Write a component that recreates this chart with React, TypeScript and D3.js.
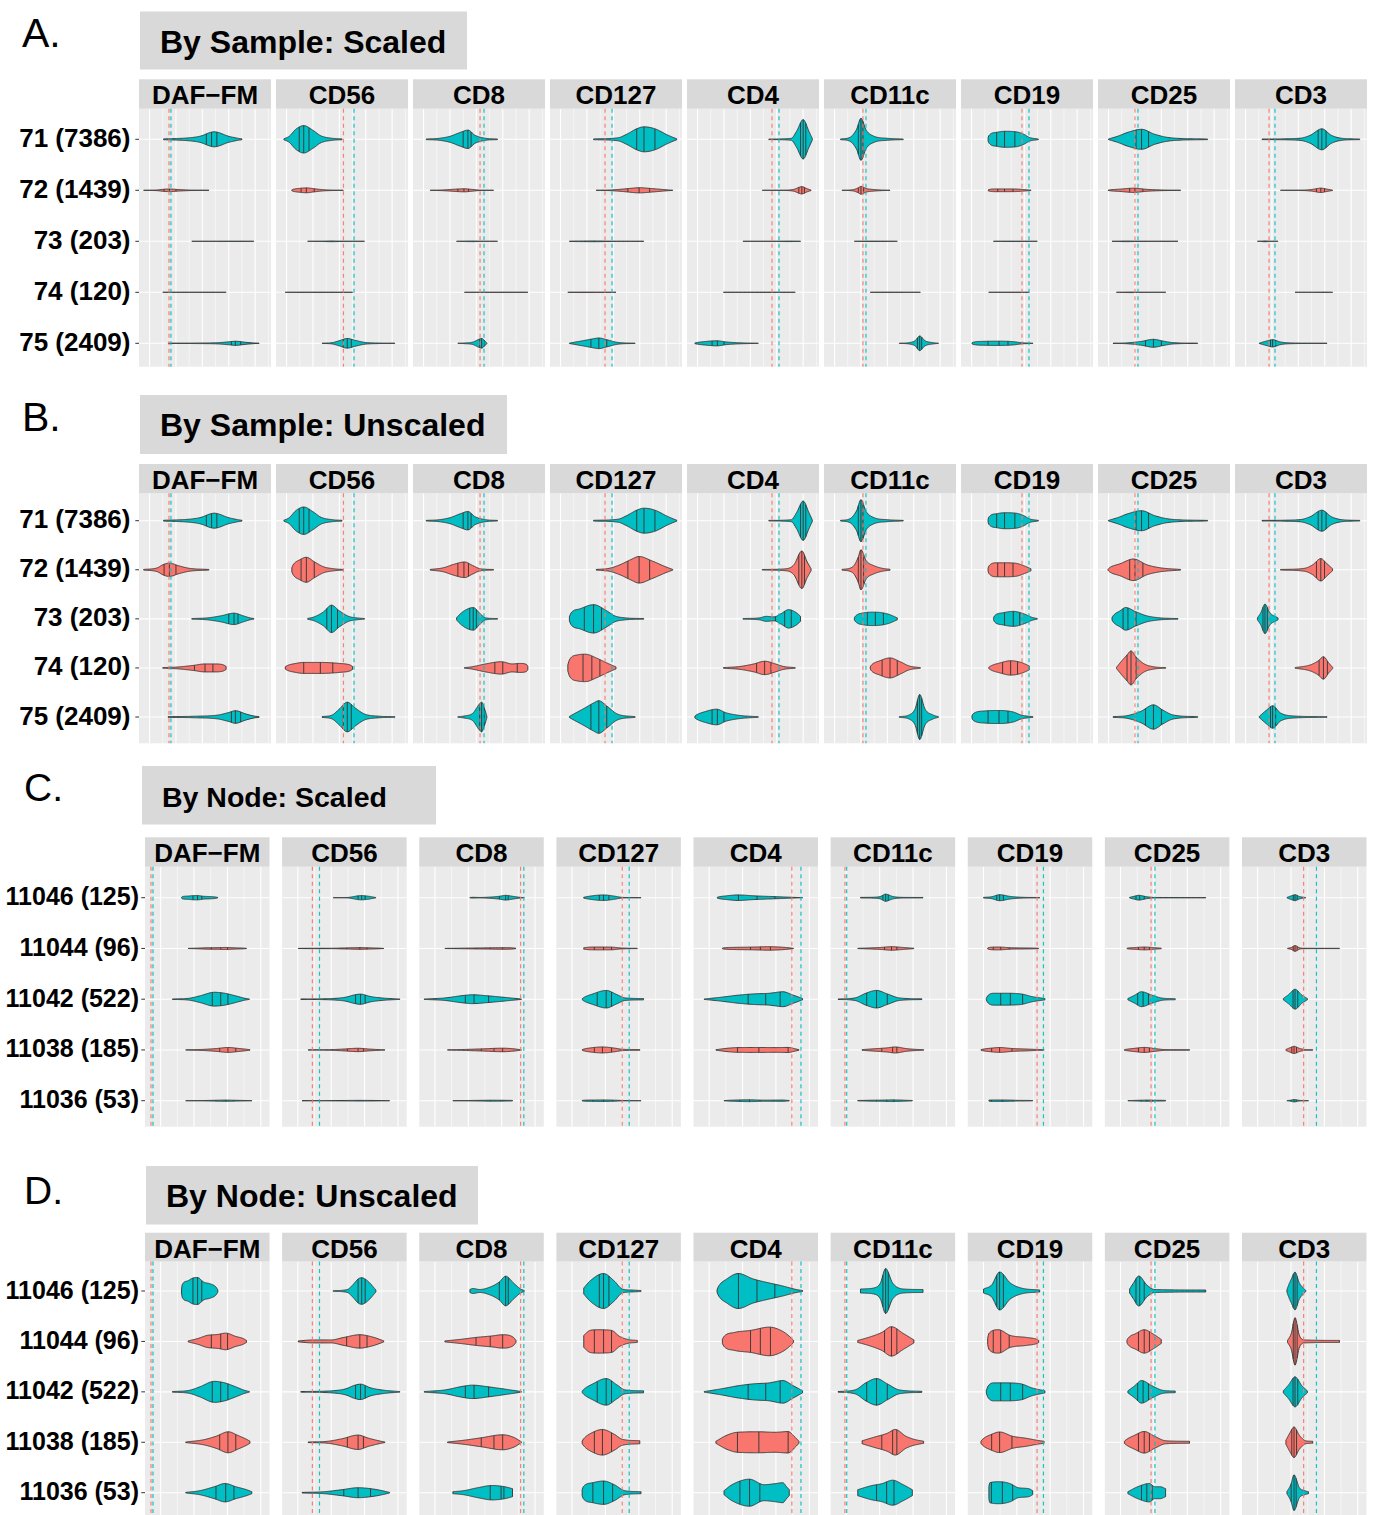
import React from "react";
import * as d3 from "d3";

// ---------------- DATA ----------------
const MARKERS = ["DAF−FM", "CD56", "CD8", "CD127", "CD4", "CD11c", "CD19", "CD25", "CD3"];

const SAMPLE_LABELS = ["71 (7386)", "72 (1439)", "73 (203)", "74 (120)", "75 (2409)"];
const SAMPLE_COUNTS = [7386, 1439, 203, 120, 2409];
const SAMPLE_CLASS = ["B", "A", "B", "A", "B"];

const NODE_LABELS = ["11046 (125)", "11044 (96)", "11042 (522)", "11038 (185)", "11036 (53)"];
const NODE_COUNTS = [125, 96, 522, 185, 53];
const NODE_CLASS = ["B", "A", "B", "A", "B"];

// class thresholds (x units: 0-100 of each marker's free scale)
const SAMPLE_CUT_A = [22.7, 51.1, 50.8, 41.7, 64.4, 29.5, 46.2, 28, 25.8];
const SAMPLE_CUT_B = [24.2, 59.1, 53.8, 47, 69.7, 31.8, 51.5, 30.3, 30.3];
const NODE_CUT_A = [4.8, 24.3, 81.4, 52.9, 79, 11.5, 55.7, 37.1, 49.5];
const NODE_CUT_B = [6.4, 30, 84, 58.5, 86.3, 12.9, 60.8, 40.2, 59.8];

// violin: [quantiles, density knots [x, density]]
type V = [number[], [number, number][]];

const SAMPLE_VIOLINS: V[][] = [
  [ // DAF-FM
    [[51, 55, 59], [[18.6, 0.4], [38, 1.5], [46, 3], [57, 7.5], [68, 3], [75, 1], [78, 0.4]]],
    [[19, 23, 28], [[3.5, 0.3], [14, 2], [18, 5], [23, 6.7], [30, 4], [38, 1.5], [53, 0.3]]],
    [[68, 72, 75], [[40, 0.3], [52, 1], [62, 3], [72, 5.7], [79, 3], [84, 1], [87, 0.3]]],
    [[42, 50, 56], [[18, 0.3], [30, 1], [41, 2.5], [50, 4], [57, 4], [64, 3], [66, 1.5]]],
    [[70, 73, 77], [[22, 0.3], [43, 0.8], [60, 2], [68, 4.5], [73, 6.3], [81, 3], [87, 1], [91, 0.3]]],
  ],
  [ // CD56
    [[17.6, 21, 25], [[6, 0.5], [10, 3], [15, 10], [21, 13.7], [28, 9], [34, 3.5], [42.6, 1], [50, 0.4]]],
    [[19, 23, 29], [[12, 2], [13, 5], [18, 10], [23, 12.5], [29, 8], [36, 3], [44, 1], [51, 0.3]]],
    [[38.5, 42, 46.6], [[24, 0.4], [29, 2], [36, 7], [42, 13.7], [48, 8], [55, 2.5], [61, 1], [67, 0.3]]],
    [[21, 33.6, 43], [[7, 1], [8, 2], [15, 4.5], [21, 5.5], [34, 5.5], [48, 4.5], [56, 3], [58, 1.5]]],
    [[51, 54, 57], [[35, 0.4], [42.6, 2], [48, 8], [54, 14.8], [60, 9], [67, 3], [78, 0.8], [90, 0.3]]],
  ],
  [ // CD8
    [[38, 41.6, 44], [[10, 0.3], [20, 1], [28, 3], [36, 7], [41.6, 9.2], [47, 4], [55, 1], [64, 0.3]]],
    [[34, 38.6, 42], [[13, 0.3], [23, 2], [31, 5.5], [39, 7.8], [45.6, 4], [51, 1], [61, 0.3]]],
    [[43, 45.6, 48], [[33, 1], [35, 4], [40, 9], [45.6, 11.3], [51, 5], [55, 1], [64, 0.3]]],
    [[62, 68, 79], [[39, 0.3], [44, 1], [55, 4], [67, 6.2], [75, 4], [81, 4.5], [86, 3.5], [87, 1.5]]],
    [[50.5, 52, 54], [[34, 0.3], [38.6, 1], [45.5, 4], [49.7, 12], [52, 14.8], [54.5, 7], [56, 0.5]]],
  ],
  [ // CD127
    [[65.7, 71.2, 79.5], [[33, 0.4], [51.5, 1.5], [58, 5], [65.7, 10.5], [71.2, 12.5], [79.5, 10.5], [88, 5], [93, 2], [96, 0.5]]],
    [[59, 67.5, 75.5], [[35, 0.3], [45, 1.5], [53, 5], [61, 10], [67.5, 13.3], [77, 9], [87.6, 3], [93, 0.3]]],
    [[26, 33, 39], [[14.7, 2], [16, 6], [22.7, 10], [33, 14.2], [43, 8], [49, 3], [57, 1], [71, 0.3]]],
    [[25, 31.7, 37.8], [[13.5, 3], [14.7, 8], [20.7, 13], [27, 13.7], [35, 10], [43, 5], [50, 1]]],
    [[31, 37, 43], [[14.7, 0.5], [16.6, 2], [25, 8], [33, 14], [37, 16.3], [43, 11], [51, 3], [64.5, 0.3]]],
  ],
  [ // CD4
    [[86, 88, 90], [[62, 0.3], [79, 1], [83, 8], [88, 19.7], [92.4, 8], [95, 0.5]]],
    [[84.7, 87, 89], [[57, 0.3], [75, 1], [81, 5], [87, 18.8], [91, 8], [94, 1]]],
    [[67, 74, 79], [[42.4, 0.3], [55, 1], [60, 2.5], [66, 2], [71, 5], [77, 9.2], [83, 6], [86, 2.5]]],
    [[52.7, 58.8, 63.6], [[27.6, 0.3], [40.5, 1.5], [50.7, 4], [58.8, 6.7], [67, 4], [73, 1.5], [82, 0.3]]],
    [[19, 23, 28], [[6, 1], [7, 2], [14, 5.5], [22.3, 7.8], [30, 4], [40.5, 1.5], [54, 0.3]]],
  ],
  [ // CD11c
    [[26, 28, 29.5], [[12.5, 0.3], [19.7, 2], [24.7, 10], [28, 21], [32, 9], [38, 3], [48, 1], [60, 0.3]]],
    [[26, 28, 30], [[13.6, 0.3], [21.8, 3], [25.8, 12], [28, 20], [32, 9], [38, 4], [44, 1.5], [50, 0.5]]],
    [[32.8, 38.9, 45], [[23, 1], [24, 3], [30, 6], [38, 6.7], [48, 5], [55.5, 1]]],
    [[44, 50, 55.5], [[35, 1], [36, 3], [42, 7], [50, 10], [58, 6], [64.4, 2], [73, 0.3]]],
    [[70.8, 72.5, 74], [[57, 0.3], [64.4, 2], [69, 8], [72.5, 22.5], [76.5, 8], [82.6, 2], [86.7, 0.3]]],
  ],
  [ // CD19
    [[27, 33, 40.8], [[20.5, 1], [21, 3.5], [27, 7], [33, 8], [41.6, 7.5], [47.7, 5], [51.5, 2], [58.6, 0.3]]],
    [[27.8, 33, 39.4], [[20.5, 1], [21, 3.5], [27, 7], [33, 7], [41.6, 6.5], [47.7, 4], [53, 1]]],
    [[33, 39.6, 44.5], [[24.6, 0.5], [25.4, 3], [31.5, 6], [39.6, 7.5], [47.7, 5], [53.8, 1.5], [57.8, 0.3]]],
    [[31.5, 37.6, 42.8], [[21, 0.5], [22.6, 2], [29.5, 5], [37.6, 7.2], [45.5, 5.5], [51.7, 2]]],
    [[20.5, 28.8, 35.6], [[8.3, 1], [9, 3], [17.3, 6], [29.5, 6.5], [39.6, 5], [45.5, 2], [54.5, 0.3]]],
  ],
  [ // CD25
    [[28.8, 33, 38.3], [[7.9, 0.3], [14.8, 3], [22.7, 7], [33, 10], [43, 5], [55, 1.5], [83, 0.3]]],
    [[24, 28, 34], [[7.6, 0.5], [8.7, 2], [16.7, 6], [27, 10.8], [37, 5], [47, 2], [62.6, 0.3]]],
    [[19, 22.7, 28.8], [[10.6, 1], [11.4, 3], [16.7, 8], [21, 11.3], [28.8, 7], [37, 3], [47, 1], [60.6, 0.3]]],
    [[22, 25, 28.8], [[14, 0.5], [16.7, 5], [22, 13], [25, 17], [28.8, 11], [35, 4], [43, 1], [51.3, 0.3]]],
    [[36, 42, 48], [[11.4, 0.3], [22.7, 1.5], [33, 6], [42, 12.2], [49, 7], [57, 2], [75.5, 0.3]]],
  ],
  [ // CD3
    [[63, 65.8, 69], [[20.5, 0.3], [48.8, 1], [57, 4], [65.8, 10.5], [73, 4], [81, 1], [94.5, 0.3]]],
    [[61.7, 65, 67.8], [[34.5, 0.3], [52.8, 1.5], [58.9, 5], [65, 11.2], [69.7, 6], [73.9, 1]]],
    [[21.2, 22.7, 24.5], [[17, 1], [19.5, 6], [22.7, 14.7], [26.5, 6], [32.6, 1]]],
    [[63.7, 67, 70], [[45.5, 0.3], [57, 3], [63, 7], [67, 11.2], [71, 5], [74, 0.5]]],
    [[26.9, 28.5, 30.8], [[18.4, 0.5], [19.6, 2], [24, 7], [28.5, 11.2], [34.5, 4], [44.7, 1], [69.7, 0.3]]],
  ],
];

const NODE_VIOLINS: V[][] = [
  [ // DAF-FM
    [[38.5, 42.2, 45.6], [[29.3, 1], [29.8, 6], [34, 10], [38.5, 13], [42.2, 13.5], [47, 9], [52.8, 7], [57, 4], [58.5, 1]]],
    [[53.3, 60.8, 66.3], [[34.7, 0.5], [42.7, 3], [49.8, 6], [58.5, 7], [64.8, 8.3], [72.9, 5], [78.6, 3], [81.5, 1]]],
    [[54, 60.8, 66.6], [[22, 0.3], [35.6, 1.5], [44, 5], [55.7, 10.5], [64, 9], [72.9, 5], [80, 1.5], [83.8, 0.3]]],
    [[60, 66.6, 72.9], [[32.7, 0.3], [47, 2.5], [57, 6], [67, 10.5], [74.3, 7], [81.5, 3], [84.3, 1]]],
    [[57, 64.8, 71.4], [[32.7, 0.3], [44, 2], [55.7, 6], [64.3, 9.2], [72.9, 6], [81.5, 3], [85.8, 1]]],
  ],
  [ // CD56
    [[61, 63.9, 66.7], [[41, 0.3], [52.4, 1.5], [56.7, 6], [61, 12], [63.9, 13.3], [69.6, 9], [73.9, 3], [75.3, 1]]],
    [[51.8, 62.4, 68.2], [[13, 0.5], [25, 1.5], [39.4, 1.5], [49.5, 4], [62.4, 6.7], [72.4, 4.5], [79.5, 1.5], [81.6, 0.5]]],
    [[59, 63, 66.7], [[15, 0.3], [39.4, 1], [51, 3], [58, 6.5], [63, 7.7], [71, 4], [82.5, 1.5], [94.5, 0.3]]],
    [[52.4, 61, 65.3], [[20.9, 0.3], [36.6, 1], [48, 3.5], [61, 7.2], [69.6, 4], [79.5, 1], [82.5, 0.3]]],
    [[49.5, 61, 71], [[16, 0.3], [33.7, 1], [48, 3], [61, 5], [74, 3.5], [84, 1], [86.3, 0.3]]],
  ],
  [ // CD8
    [[64.3, 69.4, 71.5], [[40.7, 1.5], [43, 2.5], [48.5, 1.5], [57, 4], [64.3, 9], [69.4, 14.8], [75.7, 8], [81.4, 2], [84.3, 0.5]]],
    [[45.6, 57, 67], [[20.6, 0.5], [32.7, 2], [45.6, 4], [58.5, 5.5], [67, 6.7], [75.7, 4], [77.7, 1]]],
    [[37, 44, 55.7], [[4, 0.3], [21.2, 2], [32.7, 5], [42.7, 6.7], [55.7, 5], [70, 2.5], [82, 0.3]]],
    [[49.8, 60, 67], [[22.7, 0.3], [35.6, 2], [49.8, 4.5], [67, 7.5], [75.7, 5], [82, 0.5]]],
    [[57, 65.7, 68], [[27, 1], [35.6, 2], [47, 5], [58.5, 7.2], [68.6, 6], [74.9, 4]]],
  ],
  [ // CD127
    [[34.5, 37.9, 42.2], [[22, 3], [27, 10], [37.9, 17.5], [46.5, 10], [52.9, 2], [60, 1], [68, 0.5]]],
    [[30.5, 37.9, 44.3], [[22, 6], [27, 11], [33.6, 11.7], [44.3, 11], [50.8, 5], [57.2, 2], [65, 1]]],
    [[32.8, 40, 44.3], [[20.7, 0.5], [21.6, 2], [29.3, 8], [40, 13.3], [48.6, 7], [55, 2], [70, 1]]],
    [[30.5, 37, 44.3], [[20.7, 1], [21.6, 3], [29.3, 10], [37, 12.8], [46.5, 8], [52.9, 3], [67, 1.5]]],
    [[29.3, 37.9, 45.2], [[20.7, 3], [21.6, 6], [29.3, 10], [37.9, 11.7], [46.5, 8], [55, 2], [68, 1]]],
  ],
  [ // CD4
    [[36.1, 51, 65.3], [[18.9, 1], [19.8, 4], [26.7, 12], [36.1, 17.5], [48, 12], [61, 8], [71.7, 5], [82.5, 1.5], [87.6, 0.5]]],
    [[45.8, 53.7, 61.8], [[23.2, 2], [24.5, 5], [33, 9], [45.8, 11], [61, 14.3], [71.7, 10], [78, 4], [80.3, 1]]],
    [[43.9, 58, 69.6], [[8.6, 0.3], [22.3, 3], [35.3, 6], [48, 8], [61, 9], [71.7, 11.3], [80.3, 6], [87.6, 1]]],
    [[35.3, 52.5, 76], [[18, 1], [26.7, 7], [35.3, 10], [52.5, 10.5], [65.3, 10], [76, 10.7], [81.6, 5], [84.7, 1]]],
    [[37.3, 45, 53.3], [[24.5, 2], [30.9, 8], [45, 13.5], [56.7, 8], [65.3, 9], [71.7, 10], [74.7, 6], [76.9, 3]]],
  ],
  [ // CD11c
    [[42, 44.2, 46.3], [[24, 2], [34.7, 3], [40, 8], [44.2, 22.5], [49.8, 8], [58.3, 2], [74.2, 1.5]]],
    [[43.3, 48.9, 53.2], [[21.8, 1], [30.4, 4], [41.1, 9], [48.9, 14.7], [58.3, 8], [66.9, 1.5]]],
    [[29, 36.9, 45.5], [[6, 0.3], [19.7, 2], [28.3, 9], [36.9, 13.3], [45.5, 8], [55, 2], [73.3, 0.5]]],
    [[41.1, 49.8, 53.2], [[25.3, 1.5], [34.7, 5], [45.5, 9], [51.9, 12.8], [60.5, 6], [66.9, 3], [74.7, 1]]],
    [[36.9, 45, 50.9], [[21.8, 3], [32.6, 7], [41.1, 9], [49.8, 12.5], [58.3, 8], [65.6, 3]]],
  ],
  [ // CD19
    [[23.3, 25.6, 28.6], [[12.7, 2], [19.2, 6], [25.6, 19], [34.2, 8], [42.8, 3], [57.8, 1]]],
    [[20.5, 26.5, 33.3], [[16, 3], [17, 8], [24.7, 11.7], [34.2, 6], [47, 4], [55.7, 2], [57, 1]]],
    [[26.5, 34.2, 44.1], [[14.9, 1], [16, 5], [21.3, 9], [29.7, 9], [42.8, 8], [51.4, 4], [62, 1]]],
    [[19.2, 25.6, 35.5], [[10.6, 1], [11.9, 3], [19.2, 8], [25.6, 10.3], [36.1, 6], [47, 4], [55.7, 2], [61.3, 1]]],
    [[19, 27.8, 36.1], [[17, 6], [17.7, 10], [25.6, 11], [34.2, 9], [40.6, 5], [49, 4], [52.2, 2]]],
  ],
  [ // CD25
    [[25, 28, 31.6], [[19.9, 2], [23, 8], [27.2, 15], [33.7, 6], [40, 1.5], [81, 1]]],
    [[27, 31.6, 35.8], [[17.7, 1], [18.5, 3], [25, 8], [31.6, 11.7], [39.4, 7], [45.3, 2]]],
    [[26.4, 30.7, 35], [[18.5, 1], [23.9, 6], [29.4, 11.3], [38, 6], [46.6, 1.5], [56.5, 0.8]]],
    [[27, 31.6, 35.8], [[15.7, 1], [16.5, 2], [23.9, 7], [31.6, 10.8], [40, 6], [48.8, 1.5], [68, 1]]],
    [[29.4, 33.7, 38], [[18.5, 1], [26.4, 6], [35.8, 9.2], [40, 6], [44.4, 6], [48.8, 4]]],
  ],
  [ // CD3
    [[41.2, 42.6, 44.3], [[36.1, 1], [36.6, 3], [39.6, 12], [42.6, 18.8], [46.1, 8], [50.4, 1.5], [51.2, 0.5]]],
    [[41.2, 42.6, 44.3], [[36.6, 1], [39.6, 8], [42.6, 23.7], [46.1, 6], [50.4, 1.5], [78.3, 1]]],
    [[41, 42.6, 44.8], [[33.2, 1], [37.5, 7], [42.6, 15], [48.2, 6], [52.5, 1]]],
    [[40, 41.8, 43.8], [[35.3, 2], [38.3, 9], [41.8, 15.3], [46.1, 7], [51.2, 1.5], [56.8, 1]]],
    [[39.5, 41.8, 43.5], [[36.1, 1], [39.2, 8], [41.8, 17.8], [46.1, 5], [50.4, 2], [53.4, 1]]],
  ],
];

// ---------------- HELPERS ----------------
function monotone(knots: [number, number][]) {
  const xs = knots.map((d) => d[0]);
  const ys = knots.map((d) => d[1]);
  const n = xs.length;
  const m: number[] = [];
  for (let i = 0; i < n - 1; i++) m.push((ys[i + 1] - ys[i]) / (xs[i + 1] - xs[i]));
  const t: number[] = new Array(n).fill(0);
  t[0] = m[0];
  t[n - 1] = m[n - 2];
  for (let i = 1; i < n - 1; i++) t[i] = m[i - 1] * m[i] <= 0 ? 0 : (m[i - 1] + m[i]) / 2;
  for (let i = 0; i < n - 1; i++) {
    if (m[i] === 0) { t[i] = 0; t[i + 1] = 0; continue; }
    const a = t[i] / m[i], b = t[i + 1] / m[i];
    const s = a * a + b * b;
    if (s > 9) { const tau = 3 / Math.sqrt(s); t[i] = tau * a * m[i]; t[i + 1] = tau * b * m[i]; }
  }
  const f = (x: number) => {
    if (x <= xs[0]) return ys[0];
    if (x >= xs[n - 1]) return ys[n - 1];
    let i = 0;
    while (x > xs[i + 1]) i++;
    const h = xs[i + 1] - xs[i];
    const s = (x - xs[i]) / h;
    const h00 = 2 * s * s * s - 3 * s * s + 1;
    const h10 = s * s * s - 2 * s * s + s;
    const h01 = -2 * s * s * s + 3 * s * s;
    const h11 = s * s * s - s * s;
    return Math.max(0, h00 * ys[i] + h10 * h * t[i] + h01 * ys[i + 1] + h11 * h * t[i + 1]);
  };
  return { f, x0: xs[0], x1: xs[n - 1] };
}

const FONT = "'Liberation Sans', Arial, Helvetica, sans-serif";
const color = d3.scaleOrdinal<string, string>().domain(["A", "B"]).range(["#F8766D", "#00BFC4"]);

type Layout = {
  letter: string; letterX: number; letterY: number; letterSize: number;
  title: string; boxX: number; boxY: number; boxW: number; boxH: number; titleSize: number;
  stripTop: number; panelTop: number; panelBottom: number;
  rowFirst: number; rowLast: number;
  facetStart: number; facetEnd: number; facetGap: number;
  grid: [number, number];
  scaled: boolean; scaleBoost: number;
  labelSize: number; labelGap: number;
};

function Panel({ L, labels, counts, cls, violins, cutA, cutB }: {
  L: Layout; labels: string[]; counts: number[]; cls: string[]; violins: V[][]; cutA: number[]; cutB: number[];
}) {
  const yScale = d3.scalePoint<string>().domain(labels).range([L.rowFirst, L.rowLast]);
  const nF = MARKERS.length;
  const fx = d3.scaleBand<string>().domain(MARKERS).range([L.facetStart, L.facetEnd])
    .paddingInner(L.facetGap / ((L.facetEnd - L.facetStart + L.facetGap) / nF));
  const bw = fx.bandwidth();
  const maxN = d3.max(counts) as number;
  const line = d3.line<[number, number]>().x((d) => d[0]).y((d) => d[1]);
  const out: React.ReactNode[] = [];

  MARKERS.forEach((mk, fi) => {
    const left = fx(mk)!;
    const x = d3.scaleLinear().domain([0, 100]).range([left, left + bw]);
    const g: React.ReactNode[] = [];
    g.push(<rect key="bg" x={left} y={L.panelTop} width={bw} height={L.panelBottom - L.panelTop} fill="#EBEBEB" />);
    const [gs, gstep] = L.grid;
    for (let k = 0; gs + k * gstep < 100; k++) {
      const v = gs + k * gstep;
      g.push(<line key={"g" + k} x1={x(v)} x2={x(v)} y1={L.panelTop} y2={L.panelBottom} stroke="#FFFFFF" strokeWidth={k % 2 === 0 ? 1.1 : 0.55} />);
    }
    labels.forEach((lb) => {
      g.push(<line key={"h" + lb} x1={left} x2={left + bw} y1={yScale(lb)} y2={yScale(lb)} stroke="#FFFFFF" strokeWidth={1.1} />);
    });
    g.push(<rect key="strip" x={left} y={L.stripTop} width={bw} height={L.panelTop - L.stripTop} fill="#D9D9D9" />);
    g.push(<text key="st" x={left + bw / 2} y={L.stripTop + 25} textAnchor="middle" fontFamily={FONT} fontWeight="bold" fontSize={26} fill="#000">{mk}</text>);
    labels.forEach((lb, ri) => {
      const [q, knots] = violins[fi][ri];
      const { f, x0, x1 } = monotone(knots);
      const factor = L.scaled ? (counts[ri] / maxN) * L.scaleBoost : 1;
      const w = d3.scaleLinear().domain([0, 25]).range([0, 25 * factor]);
      const cy = yScale(lb)!;
      const N = 90;
      const xsS = d3.range(N + 1).map((i) => x0 + ((x1 - x0) * i) / N);
      const upper = xsS.map((v) => [x(v), cy - w(f(v))] as [number, number]);
      const lower = xsS.slice().reverse().map((v) => [x(v), cy + w(f(v))] as [number, number]);
      const d = line([...upper, ...lower]) + "Z";
      g.push(<path key={"v" + ri} d={d} fill={color(cls[ri])} stroke="#333333" strokeWidth={0.9} strokeLinejoin="round" />);
      q.forEach((qq, qi) => {
        const hh = w(f(qq));
        g.push(<line key={"q" + ri + "_" + qi} x1={x(qq)} x2={x(qq)} y1={cy - hh} y2={cy + hh} stroke="#333333" strokeWidth={0.9} />);
      });
    });
    g.push(<line key="ca" x1={x(cutA[fi])} x2={x(cutA[fi])} y1={L.panelTop} y2={L.panelBottom} stroke={color("A")} strokeWidth={1.2} strokeDasharray="4 3.5" opacity={0.9} />);
    g.push(<line key="cb" x1={x(cutB[fi])} x2={x(cutB[fi])} y1={L.panelTop} y2={L.panelBottom} stroke={color("B")} strokeWidth={1.2} strokeDasharray="4 3.5" opacity={0.9} />);
    out.push(<g key={mk}>{g}</g>);
  });

  return (
    <g>
      <text x={L.letterX} y={L.letterY} fontFamily={FONT} fontSize={L.letterSize} fill="#000">{L.letter}</text>
      <rect x={L.boxX} y={L.boxY} width={L.boxW} height={L.boxH} fill="#D9D9D9" />
      <text x={L.boxX + 20} y={L.boxY + 41} fontFamily={FONT} fontWeight="bold" fontSize={L.titleSize} fill="#000">{L.title}</text>
      {out}
      {labels.map((lb) => (
        <g key={"yl" + lb}>
          <line x1={L.facetStart - 3.7} x2={L.facetStart} y1={yScale(lb)} y2={yScale(lb)} stroke="#333333" strokeWidth={1} />
          <text x={L.facetStart - L.labelGap} y={yScale(lb)! + 7.5} textAnchor="end" fontFamily={FONT} fontWeight="bold" fontSize={L.labelSize} fill="#000">{lb}</text>
        </g>
      ))}
    </g>
  );
}

const LAYOUT_A: Layout = {
  letter: "A.", letterX: 22, letterY: 47, letterSize: 41,
  title: "By Sample: Scaled", boxX: 140, boxY: 11.5, boxW: 327, boxH: 58, titleSize: 32,
  stripTop: 79.3, panelTop: 108.7, panelBottom: 366.7, rowFirst: 139.3, rowLast: 343.3,
  facetStart: 139, facetEnd: 1367, facetGap: 5, grid: [8, 10], scaled: true, scaleBoost: 1.0,
  labelSize: 26, labelGap: 8.5,
};
const LAYOUT_B: Layout = {
  letter: "B.", letterX: 22, letterY: 431, letterSize: 41,
  title: "By Sample: Unscaled", boxX: 140, boxY: 395, boxW: 367, boxH: 59, titleSize: 32,
  stripTop: 464, panelTop: 493.3, panelBottom: 743.3, rowFirst: 520.7, rowLast: 717,
  facetStart: 139, facetEnd: 1367, facetGap: 5, grid: [8, 10], scaled: false, scaleBoost: 1,
  labelSize: 26, labelGap: 8.5,
};
const LAYOUT_C: Layout = {
  letter: "C.", letterX: 24, letterY: 801, letterSize: 39,
  title: "By Node: Scaled", boxX: 142, boxY: 766, boxW: 294, boxH: 58.5, titleSize: 28.5,
  stripTop: 837.3, panelTop: 866.7, panelBottom: 1126.7, rowFirst: 897.7, rowLast: 1100.7,
  facetStart: 145, facetEnd: 1366.5, facetGap: 12.6, grid: [12.6, 13.4], scaled: true, scaleBoost: 0.66,
  labelSize: 25, labelGap: 6,
};
const LAYOUT_D: Layout = {
  letter: "D.", letterX: 24, letterY: 1204, letterSize: 39,
  title: "By Node: Unscaled", boxX: 146, boxY: 1166, boxW: 332, boxH: 58.5, titleSize: 32,
  stripTop: 1232.7, panelTop: 1261.5, panelBottom: 1515, rowFirst: 1291, rowLast: 1492.7,
  facetStart: 145, facetEnd: 1366.5, facetGap: 12.6, grid: [12.6, 13.4], scaled: false, scaleBoost: 1,
  labelSize: 25, labelGap: 6,
};

export default function App() {
  return (
    <svg width={1374} height={1515} viewBox="0 0 1374 1515" style={{ position: "absolute", left: 0, top: 0, display: "block", background: "#FFFFFF" }}>
      <rect x={0} y={0} width={1374} height={1515} fill="#FFFFFF" />
      <Panel L={LAYOUT_A} labels={SAMPLE_LABELS} counts={SAMPLE_COUNTS} cls={SAMPLE_CLASS} violins={SAMPLE_VIOLINS} cutA={SAMPLE_CUT_A} cutB={SAMPLE_CUT_B} />
      <Panel L={LAYOUT_B} labels={SAMPLE_LABELS} counts={SAMPLE_COUNTS} cls={SAMPLE_CLASS} violins={SAMPLE_VIOLINS} cutA={SAMPLE_CUT_A} cutB={SAMPLE_CUT_B} />
      <Panel L={LAYOUT_C} labels={NODE_LABELS} counts={NODE_COUNTS} cls={NODE_CLASS} violins={NODE_VIOLINS} cutA={NODE_CUT_A} cutB={NODE_CUT_B} />
      <Panel L={LAYOUT_D} labels={NODE_LABELS} counts={NODE_COUNTS} cls={NODE_CLASS} violins={NODE_VIOLINS} cutA={NODE_CUT_A} cutB={NODE_CUT_B} />
    </svg>
  );
}
